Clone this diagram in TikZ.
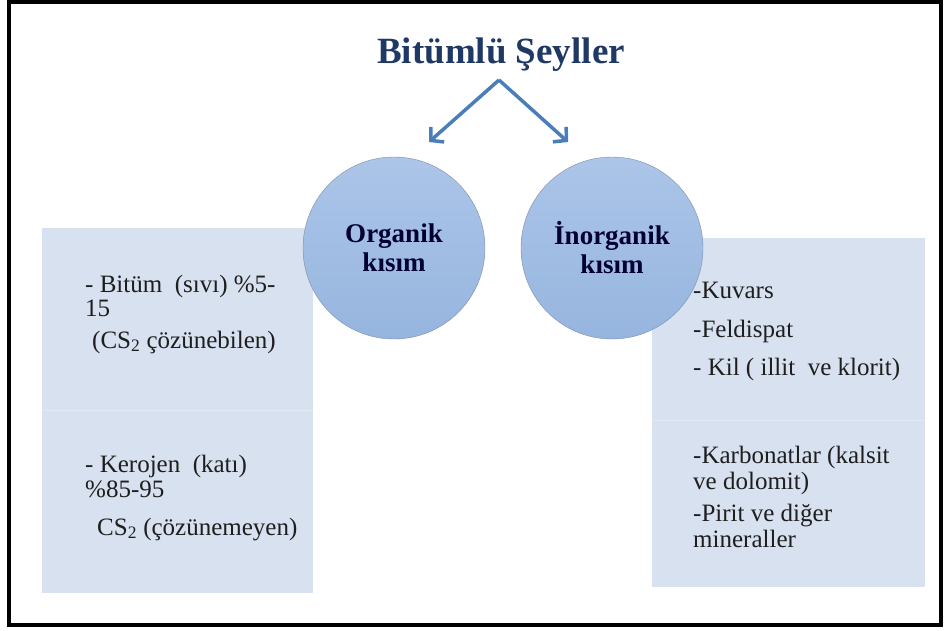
\documentclass[tikz,border=0pt]{standalone}
\usepackage{fontspec}
\setmainfont{Liberation Serif}
\usepackage{xcolor}
\usetikzlibrary{arrows.meta}
\definecolor{titleblue}{HTML}{1F3864}
\definecolor{arrowblue}{HTML}{4A7EBB}
\definecolor{circletop}{HTML}{ACC5E9}
\definecolor{circlebot}{HTML}{96B5DE}
\definecolor{circleline}{HTML}{7D8EA8}
\definecolor{boxfill}{HTML}{D7E1EF}
\definecolor{inktext}{HTML}{1E1E1E}

\begin{document}
\begin{tikzpicture}[x=1pt,y=-1pt,
	part/.style={circle,draw=circleline,top color=circletop,bottom color=circlebot,
		minimum size=182pt,inner sep=0pt,align=center,text=black!80!blue,
		font=\fontsize{27}{29}\selectfont\bfseries},
	listbox/.style={fill=boxfill,anchor=north west,inner sep=0pt},
	item/.style={anchor=base west,inner sep=0pt,text=inktext,font=\fontsize{25}{28}\selectfont},
	link/.style={draw=arrowblue,line width=3.5pt,-{Straight Barb[length=9pt,width=20pt]}}]
	\useasboundingbox (0,0) rectangle (947,630);
	\draw[line width=3.5pt] (9,2) rectangle (941,625);
	% title and arrows
	\node[anchor=base,text=titleblue,font=\fontsize{37}{40}\selectfont\bfseries] (title) at (501,63) {Bitümlü Şeyller};
	\coordinate (apex) at (499,80);
	\coordinate (orgtip) at (429,142);
	\coordinate (inorgtip) at (568,142);
	\draw[link] (apex) -- (orgtip);
	\draw[link] (apex) -- (inorgtip);
	% boxes
	\node[listbox,minimum width=271pt,minimum height=182pt] (orgup) at (42,228) {};
	\node[listbox,minimum width=271pt,minimum height=183pt] (orgdown) at (42,410) {};
	\node[listbox,minimum width=273pt,minimum height=182pt] (inorgup) at (652,238) {};
	\node[listbox,minimum width=273pt,minimum height=167pt] (inorgdown) at (652,420) {};
	\draw[white!25!boxfill,line width=1pt] (orgup.south west) -- (orgup.south east);
	\draw[white!25!boxfill,line width=1pt] (inorgup.south west) -- (inorgup.south east);
	% circles
	\node[part] (org) at (394,248) {Organik\\kısım};
	\node[part] (inorg) at (612,248) {İnorganik\\kısım};
	% left list
	\node[item] (bit1) at (85,292) {- Bitüm\ \ (sıvı) \%5-};
	\node[item] (bit2) at (85,316) {15};
	\node[item] (bit3) at (92,348) {(CS\textsubscript{2} çözünebilen)};
	\node[item] (ker1) at (85,472) {- Kerojen\ \ (katı)};
	\node[item] (ker2) at (85,497) {\%85-95};
	\node[item] (ker3) at (97,535) {CS\textsubscript{2} (çözünemeyen)};
	% right list
	\node[item] (kuv) at (693,298) {-Kuvars};
	\node[item] (fel) at (693,337) {-Feldispat};
	\node[item] (kil) at (693,375) {- Kil ( illit\ \ ve klorit)};
	\node[item] (kar1) at (693,463) {-Karbonatlar (kalsit};
	\node[item] (kar2) at (693,489) {ve dolomit)};
	\node[item] (pir1) at (693,521) {-Pirit ve diğer};
	\node[item] (pir2) at (693,547) {mineraller};
\end{tikzpicture}
\end{document}
